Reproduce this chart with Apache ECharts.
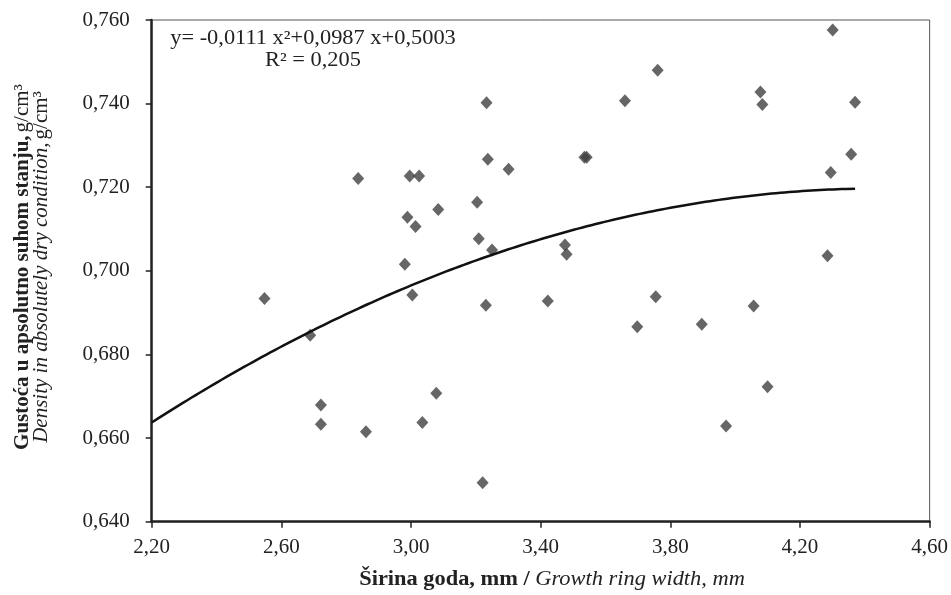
<!DOCTYPE html>
<html>
<head>
<meta charset="utf-8">
<script src="https://cdn.jsdelivr.net/npm/echarts@6/dist/echarts.min.js"></script>
<style>
  html, body { margin: 0; padding: 0; background: #fff; }
  #chart { width: 951px; height: 595px; }
</style>
</head>
<body>
<div id="chart"></div>
<script>
// Growth ring width (mm) of each sample
const ringWidth = [
  2.837, 2.996, 3.025, 3.233, 3.237, 3.301, 2.989, 3.014, 3.084, 3.204,
  3.209, 3.250, 2.981, 4.301, 3.761, 3.660, 4.078, 4.084, 4.370, 3.535,
  3.542, 4.358, 4.295, 3.475, 3.480, 4.285, 2.548, 3.004, 3.231, 2.689,
  2.722, 2.722, 2.861, 3.035, 3.078, 3.221, 3.422, 3.755, 3.698, 3.897,
  4.057, 4.100, 3.972
];
// Oven-dry density (g/cm3) of each sample
const density = [
  0.7221, 0.7227, 0.7227, 0.7402, 0.7267, 0.7243, 0.7128, 0.7106, 0.7147, 0.7164,
  0.7077, 0.7050, 0.7016, 0.7576, 0.7480, 0.7407, 0.7428, 0.7398, 0.7403, 0.7272,
  0.7272, 0.7279, 0.7235, 0.7062, 0.7040, 0.7036, 0.6934, 0.6942, 0.6918, 0.6846,
  0.6679, 0.6633, 0.6615, 0.6637, 0.6707, 0.6493, 0.6928, 0.6938, 0.6866, 0.6872,
  0.6916, 0.6723, 0.6629
];
// Polynomial trend y = a x^2 + b x + c, as printed on the chart
const trendCoef = [-0.0111, 0.0987, 0.5003];
const trendRange = [2.2, 4.37];
const rSquared = '0,205';

const xTicks = { min: 2.2, max: 4.6, step: 0.4 };
const yTicks = { min: 0.64, max: 0.76, step: 0.02 };

const points = ringWidth.map((x, i) => [x, density[i]]);

const trend = [];
const nSteps = 80;
for (let k = 0; k <= nSteps; k++) {
  const x = trendRange[0] + (trendRange[1] - trendRange[0]) * k / nSteps;
  trend.push([x, trendCoef[0] * x * x + trendCoef[1] * x + trendCoef[2]]);
}

const fmt = (v, d) => v.toFixed(d).replace('.', ',');
const FONT = '"Liberation Serif", "Times New Roman", serif';
const TXT = '#222';

const chart = echarts.init(document.getElementById('chart'));
chart.setOption({
  animation: false,
  backgroundColor: '#fff',
  textStyle: { fontFamily: FONT, color: TXT },
  grid: {
    left: 151.7, top: 20, width: 781, height: 501.7,
    show: true, borderColor: '#555', borderWidth: 1, backgroundColor: 'transparent'
  },
  xAxis: {
    type: 'value',
    min: xTicks.min, max: xTicks.max, interval: xTicks.step,
    axisLine: { show: true, onZero: false, lineStyle: { color: '#222', width: 2.5 } },
    axisTick: { show: true, length: 6, lineStyle: { color: '#222', width: 1.5 } },
    splitLine: { show: false },
    axisLabel: {
      margin: 15, fontFamily: FONT, fontSize: 21, color: TXT,
      formatter: v => fmt(v, 2)
    }
  },
  yAxis: {
    type: 'value',
    min: yTicks.min, max: yTicks.max, interval: yTicks.step,
    axisLine: { show: true, onZero: false, lineStyle: { color: '#222', width: 2.5 } },
    axisTick: { show: true, length: 6, lineStyle: { color: '#222', width: 1.5 } },
    splitLine: { show: false },
    axisLabel: {
      margin: 22, fontFamily: FONT, fontSize: 21, color: TXT,
      formatter: v => fmt(v, 3)
    }
  },
  series: [
    {
      type: 'scatter',
      data: points,
      symbol: 'diamond',
      symbolSize: [12, 13],
      itemStyle: { color: '#404040' },
      z: 3
    },
    {
      type: 'line',
      data: trend,
      showSymbol: false,
      smooth: true,
      lineStyle: { color: '#111', width: 2.5 },
      z: 4
    }
  ],
  graphic: [
    {
      type: 'text',
      x: 313, y: 50,
      scaleX: 1.12,
      style: {
        text: 'y= -0,0111 x²+0,0987 x+0,5003\nR² = ' + rSquared,
        fontFamily: FONT, fontSize: 20, fill: TXT,
        textAlign: 'center', textVerticalAlign: 'middle', lineHeight: 22
      }
    },
    {
      type: 'text',
      x: 32, y: 267,
      rotation: Math.PI / 2,
      style: {
        text: '{b|Gustoća u apsolutno suhom stanju,} {n|g/cm³}\n{i|Density in absolutely dry condition,} {n|g/cm³}',
        textAlign: 'center',
        textVerticalAlign: 'middle',
        fontFamily: FONT,
        fill: TXT,
        rich: {
          b: { fontFamily: FONT, fontSize: 21, fontWeight: 'bold', fill: TXT, lineHeight: 19 },
          i: { fontFamily: FONT, fontSize: 21, fontStyle: 'italic', fill: TXT, lineHeight: 19 },
          n: { fontFamily: FONT, fontSize: 21, fill: TXT, lineHeight: 19 }
        }
      }
    },
    {
      type: 'text',
      x: 552, y: 580,
      scaleX: 1.12,
      style: {
        text: '{b|Širina goda, mm / }{i|Growth ring width, mm}',
        textAlign: 'center',
        textVerticalAlign: 'middle',
        fontFamily: FONT,
        fill: TXT,
        rich: {
          b: { fontFamily: FONT, fontSize: 20, fontWeight: 'bold', fill: TXT },
          i: { fontFamily: FONT, fontSize: 20, fontStyle: 'italic', fill: TXT }
        }
      }
    }
  ]
});
</script>
</body>
</html>
